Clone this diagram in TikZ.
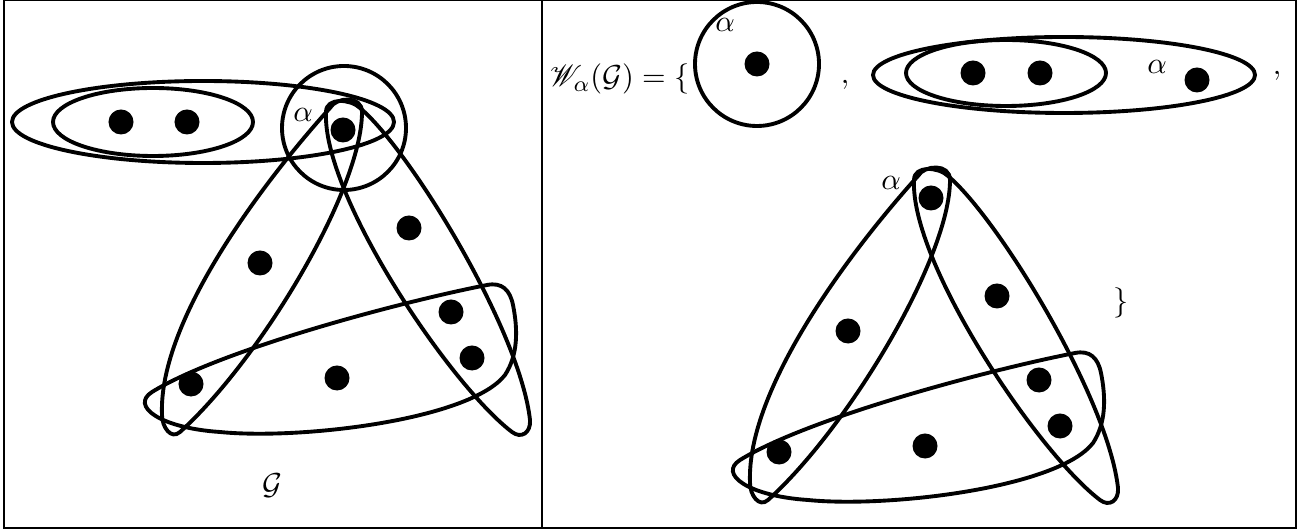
\documentclass[tikz,border=0pt]{standalone}
\usepackage{amsmath}
\usepackage{mathrsfs}
\usetikzlibrary{positioning}

% the triangle of three hyperedges through alpha
\newcommand{\trigraph}{%
  % Vertices
  \node[vertex] (a) at (343,130) {};
  \node[vertex] (b) at (409,228) {};
  \node[vertex] (c) at (260,263) {};
  \node[vertex] (d) at (191,384) {};
  \node[vertex] (e) at (337,378) {};
  \node[vertex] (f) at (451,312) {};
  \node[vertex] (g) at (472,358) {};
  \node[tag] (alab) at (303,115) {$\alpha$};
  % Hyperedges
  \draw[hedge] (330,108) .. controls (336,97) and (362,95) .. (362,112)
    .. controls (362,190) and (260,360) .. (180,432)
    .. controls (171,440) and (162,427) .. (162,415)
    .. controls (158,320) and (265,180) .. cycle;
  \draw[hedge] (326,112) .. controls (326,97) and (351,99) .. (360,108)
    .. controls (410,150) and (520,330) .. (530,420)
    .. controls (531,433) and (521,439) .. (512,432)
    .. controls (450,385) and (322,195) .. cycle;
  \draw[hedge] (152,392) .. controls (220,350) and (400,302) .. (487,285)
    .. controls (502,282) and (510,290) .. (513,305)
    .. controls (518,330) and (518,355) .. (505,375)
    .. controls (470,420) and (300,440) .. (220,432)
    .. controls (160,428) and (130,406) .. cycle;
}

\begin{document}
\begin{tikzpicture}[
    x=0.0127cm, y=-0.0127cm,
    vertex/.style={circle, fill=black, inner sep=0pt, minimum size=0.3175cm},
    hedge/.style={line width=1.4pt},
    tag/.style={inner sep=0pt, font=\fontsize{11}{13}\selectfont},
    frame/.style={line width=0.5pt}
]
\useasboundingbox (0,0) rectangle (1309,531);

% Table frame
\draw[frame] (4,0.5) rectangle (1296,528);
\draw[frame] (542,0.5) -- (542,528);

% Left: the hypergraph G
\trigraph
\node[vertex] (p) at (121,122) {};
\node[vertex] (q) at (187,122) {};
\draw[hedge] (153,122) ellipse [x radius=100, y radius=34];
\draw[hedge] (203,122) ellipse [x radius=191, y radius=41];
\draw[hedge] (a) ++(1,-2) circle [radius=62];
\node[tag] (glab) at (272,486) {$\mathcal{G}$};

% Right: the set W_alpha(G)
\node[tag, anchor=base east] (wset) at (690,87) {$\mathscr{W}_\alpha(\mathcal{G}) = \{$};

\node[vertex] (ra) at (757,64) {};
\draw[hedge] (ra) circle [radius=62];
\node[tag] (ralab) at (725,25) {$\alpha$};
\node[tag, anchor=base] (comma1) at (845,84) {$,$};

\node[vertex] (rp) at (973,73) {};
\node[vertex] (rq) at (1040,73) {};
\node[vertex] (rs) at (1197,80) {};
\node[tag] (rslab) at (1157,67) {$\alpha$};
\draw[hedge] (1006,73) ellipse [x radius=100, y radius=33];
\draw[hedge] (1064,75) ellipse [x radius=191, y radius=38];
\node[tag, anchor=base] (comma2) at (1277,75) {$,$};

\begin{scope}[shift={(588,68)}, name prefix=r-]
\trigraph
\end{scope}
\node[tag] (close) at (1121,303) {$\}$};

\end{tikzpicture}
\end{document}
